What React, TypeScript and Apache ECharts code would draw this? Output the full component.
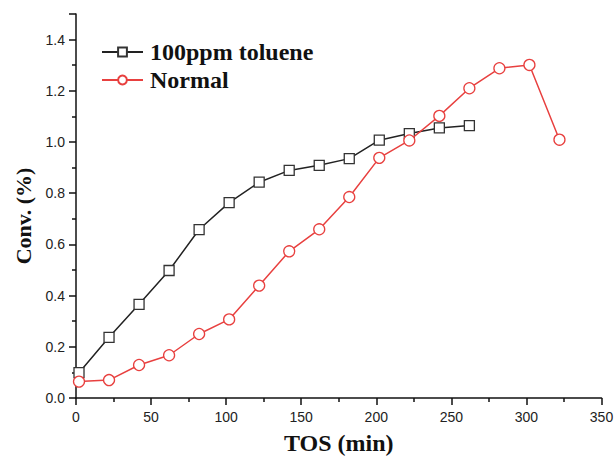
import React, { useEffect, useRef } from "react";
import * as echarts from "echarts";

const tolueneTime = [2, 22, 42, 62, 82, 102, 122, 142, 162, 182, 202, 222, 242, 262];
const tolueneConv = [0.099, 0.237, 0.366, 0.498, 0.658, 0.763, 0.843, 0.889, 0.909, 0.935, 1.007, 1.033, 1.055, 1.064];

const normalTime = [2, 22, 42, 62, 82, 102, 122, 142, 162, 182, 202, 222, 242, 262, 282, 302, 322];
const normalConv = [0.064, 0.07, 0.129, 0.167, 0.25, 0.307, 0.439, 0.573, 0.659, 0.785, 0.938, 1.006, 1.102, 1.21, 1.288, 1.301, 1.009];

const seriesNames = ["100ppm toluene", "Normal"];
const xTitle = "TOS (min)";
const yTitle = "Conv. (%)";

export default function App() {
  const ref = useRef<HTMLDivElement>(null);
  useEffect(() => {
    if (!ref.current) return;
    const chart = echarts.init(ref.current, null, { renderer: "svg" });
    const axisColor = "#111";
    const labelFont = { color: "#222", fontSize: 14, fontFamily: "Liberation Sans, Arial, sans-serif" };
    const titleFont = { color: "#111", fontSize: 23, fontWeight: "bold" as const, fontFamily: "Liberation Serif, Times New Roman, serif" };
    chart.setOption({
      animation: false,
      backgroundColor: "#fff",
      grid: { left: 76, right: 14.5, top: 14, bottom: 61, containLabel: false, outerBoundsMode: "none" },
      legend: {
        orient: "vertical",
        left: 101,
        top: 40,
        padding: 0,
        itemWidth: 41,
        itemHeight: 11,
        itemGap: 4,
        data: seriesNames,
        textStyle: {
          color: "#111",
          fontSize: 24,
          fontWeight: "bold",
          fontFamily: "Liberation Serif, Times New Roman, serif",
          lineHeight: 24,
          padding: [0, 0, 0, 2],
        },
      },
      xAxis: {
        type: "value",
        min: 0,
        max: 350,
        interval: 50,
        name: xTitle,
        nameLocation: "middle",
        nameGap: 33,
        nameTextStyle: { ...titleFont, fontSize: 24 },
        axisLine: { lineStyle: { color: axisColor, width: 1.5 } },
        axisTick: { show: true, length: 7, lineStyle: { color: axisColor, width: 1.5 } },
        minorTick: { show: true, splitNumber: 2, length: 4, lineStyle: { color: axisColor, width: 1.5 } },
        splitLine: { show: false },
        axisLabel: { ...labelFont, margin: 12 },
      },
      yAxis: {
        type: "value",
        min: 0,
        max: 1.5,
        interval: 0.2,
        name: yTitle,
        nameLocation: "middle",
        nameGap: 42,
        nameRotate: 90,
        nameTextStyle: { ...titleFont, fontSize: 22, padding: [0, 20, 0, 0] },
        axisLine: { show: true, lineStyle: { color: axisColor, width: 1.5 } },
        axisTick: { show: true, length: 7, lineStyle: { color: axisColor, width: 1.5 } },
        minorTick: { show: true, splitNumber: 2, length: 4, lineStyle: { color: axisColor, width: 1.5 } },
        splitLine: { show: false },
        axisLabel: {
          ...labelFont,
          margin: 11,
          showMaxLabel: false,
          formatter: (v: number) => (v > 1.45 ? "" : v.toFixed(1)),
        },
      },
      series: [
        {
          name: seriesNames[0],
          type: "line",
          data: tolueneTime.map((t, i) => [t, tolueneConv[i]]),
          symbol: "rect",
          symbolSize: 10,
          lineStyle: { color: "#222", width: 1.5 },
          itemStyle: { color: "#fff", borderColor: "#333", borderWidth: 1.3 },
          z: 2,
        },
        {
          name: seriesNames[1],
          type: "line",
          data: normalTime.map((t, i) => [t, normalConv[i]]),
          symbol: "circle",
          symbolSize: 11,
          lineStyle: { color: "#e8403f", width: 1.5 },
          itemStyle: { color: "#fff", borderColor: "#e8403f", borderWidth: 1.3 },
          z: 3,
        },
      ],
    });
    return () => chart.dispose();
  }, []);
  return (
    <div
      ref={ref}
      style={{ position: "fixed", left: 0, top: 0, width: 616, height: 459, background: "#fff" }}
    />
  );
}
